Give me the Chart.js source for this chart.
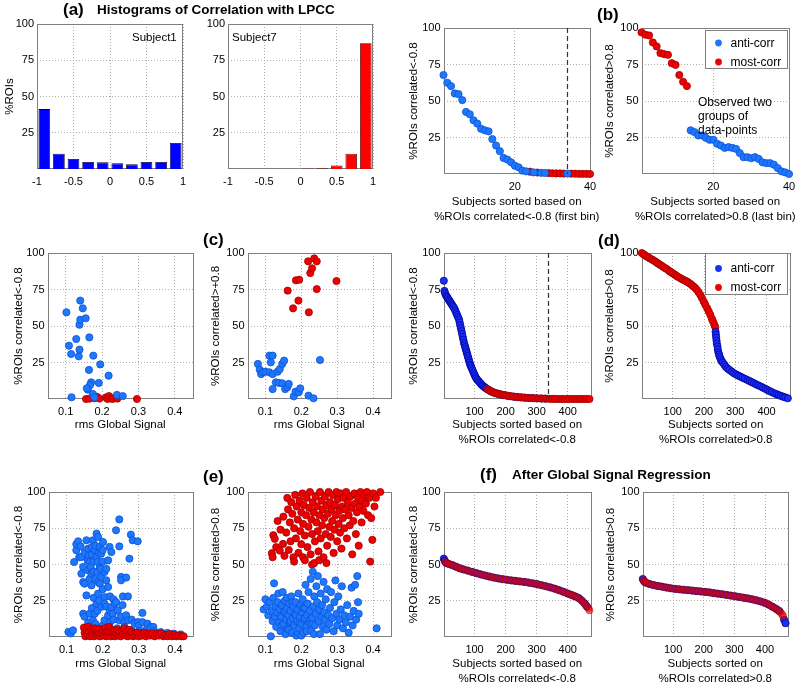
<!DOCTYPE html>
<html>
<head>
<meta charset="utf-8">
<script src="https://cdn.jsdelivr.net/npm/chart.js@4.4.1/dist/chart.umd.min.js"></script>
<style>
  body { margin: 0; background: #fff; }
  #fig { position: relative; width: 800px; height: 688px; overflow: hidden; font-family: "Liberation Sans", Arial, sans-serif; }
  #fig canvas { position: absolute; }
  .lbl { position: absolute; white-space: nowrap; color: #000; }
  .hd { font-weight: bold; }
</style>
</head>
<body>
<div id="fig"></div>
<script>
const FONT = '"Liberation Sans", Arial, sans-serif';

// ---- tick labels ----
const pctTicks = [25, 50, 75, 100];
const corrTicks = [-1, -0.5, 0, 0.5, 1];
const fewSubjTicks = [20, 40];
const rmsTicks = [0.1, 0.2, 0.3, 0.4];
const allSubjTicks = [100, 200, 300, 400];

// ---- (a) histograms ----
const histBins = [-0.9, -0.7, -0.5, -0.3, -0.1, 0.1, 0.3, 0.5, 0.7, 0.9];
const subject1Pct = [41.3, 10.5, 6.9, 4.8, 4.6, 3.9, 3.2, 4.8, 4.8, 17.9];
const subject7Pct = [0, 0, 0, 0, 0, 0.3, 0.5, 2.5, 10.5, 86.7];

// ---- (a) sorted on first bin, 40 subjects ----
const a3Anti = [[1,67.8],[2,62.5],[3,60.2],[4,55.2],[5,54.7],[6,50.6],[7,42.5],[8,40.9],[9,36.8],[10,34.5],
  [11,31.0],[12,29.9],[13,29.2],[14,23.9],[15,19.5],[16,15.6],[17,11.0],[18,9.9],[19,8.0],[20,5.7],
  [21,4.6],[22,2.3],[23,1.8],[25,1.1],[27,0.8],[28,0.7],[34,0.3]];
const a3Most = [[24,1.6],[26,1.0],[29,0.6],[30,0.5],[31,0.4],[32,0.4],[33,0.3],[35,0.2],[36,0.2],[37,0.1],[38,0.1],[39,0.1],[40,0]];
const a3Cut = 34;

// ---- (b) sorted on last bin ----
const bMost = [[1,97],[2,95.4],[3,94.9],[4,90.1],[5,87.4],[6,82.8],[7,82.1],[8,81.6],[9,75.9],[10,74.7],[11,67.8],[12,63.2],[13,60.2]];
const bAnti = [[14,29.9],[15,28.7],[16,26.4],[17,26.4],[18,24.8],[19,23.4],[20,23.4],[21,20.7],[22,19.5],[23,17.9],
  [24,18.4],[25,17.9],[26,17.2],[27,14.3],[28,11.5],[29,11.5],[30,10.8],[31,11.5],[32,10.3],[33,8.0],
  [34,7.4],[35,7.4],[36,6.4],[37,4.1],[38,1.8],[39,1.1],[40,0.0]];

// ---- (c) vs rms global signal, 40 subjects ----
const c1Anti = [[0.102,59.4],[0.109,36.5],[0.115,30.8],[0.129,41.1],[0.136,29.2],[0.138,33.8],[0.140,67.4],[0.138,50.9],
  [0.140,54.3],[0.147,62.1],[0.155,55.3],[0.165,42.2],[0.164,19.9],[0.176,29.7],[0.195,23.7],[0.218,16],[0.170,11.4],
  [0.167,9.6],[0.161,6.4],[0.158,7.3],[0.191,11],[0.116,1.2],[0.175,3.4],[0.179,1.1],[0.241,2.8],[0.257,2]];
const c1Most = [[0.156,0],[0.165,0.2],[0.179,0.5],[0.186,1.5],[0.193,0.3],[0.211,1.1],[0.215,0],[0.219,2],[0.225,0.4],
  [0.229,0],[0.236,1],[0.242,0.3],[0.296,0]];
const c2Anti = [[0.079,24],[0.084,20.1],[0.088,17.1],[0.093,18.3],[0.1,18.7],[0.111,18.3],[0.111,29.7],[0.12,29.7],
  [0.115,25.1],[0.12,17.1],[0.134,18.7],[0.14,20.5],[0.147,24],[0.152,26.3],[0.12,6.8],[0.129,11.4],[0.138,11],
  [0.147,10.7],[0.155,6.8],[0.161,8],[0.165,10.3],[0.179,1.8],[0.184,5],[0.193,4.6],[0.197,7.3],[0.22,2.3],[0.234,0.5],[0.252,26.7]];
const c2Most = [[0.162,74.2],[0.177,62.1],[0.185,81.3],[0.194,81.7],[0.192,67.4],[0.219,94.3],[0.221,59.4],[0.225,86.3],
  [0.230,89.5],[0.236,96.3],[0.243,94.3],[0.243,75.3],[0.298,80.8]];

// ---- (d) all subjects sorted ----
const d1Anti = [[1,81],[3,74],[5,72.5],[8,71],[11,70],[14,69],[17,68],[20,67],[23,66],[26,65],[29,64],[32,63],[35,62],
  [38,60.5],[41,59],[44,57.5],[47,56],[50,54.5],[52,52.5],[54,50.5],[56,48.5],[58,46.5],[60,44.5],[62,42.5],[64,40.5],
  [66,38.5],[68,37],[70,35.5],[72,34],[74,32.5],[76,31],[78,29.5],[80,28],[82,26.5],[84,25],[86,23.5],[88,22.5],[91,21],
  [94,19.5],[97,18],[100,16.5],[103,15.2],[106,14],[110,13],[114,12],[118,11],[122,10],[126,9.2],[130,8.5],[134,7.8],
  [138,7.2],[143,6.5],[150,5.6],[158,4.8],[166,4.1],[175,3.6],[184,3.1],[194,2.7],[204,2.3],[215,1.9],[226,1.6],
  [238,1.3],[250,1.1],[262,0.9],[275,0.7],[288,0.6],[301,0.4],[315,0.3],[328,0.2]];
const d1Most = [[141,6.8],[145,6.3],[147,6],[152,5.4],[154,5.2],[158,4.9],[162,4.4],[166,4.2],[170,3.9],[174,3.7],[179,3.4],
  [184,3.2],[189,2.9],[194,2.8],[199,2.5],[204,2.4],[209,2.1],[214,2],[220,1.8],[226,1.7],[232,1.4],[238,1.4],[244,1.2],
  [250,1.1],[256,1],[262,1],[268,0.8],[275,0.7],[281,0.6],[288,0.6],[294,0.5],[301,0.5],[308,0.4],[315,0.4],[321,0.3],
  [328,0.3],[334,0.2],[342,0.1],[350,0.1],[358,0.1],[366,0],[374,0],[382,0],[390,0],[398,0],[406,0],[414,0],[422,0],
  [430,0],[438,0],[446,0],[454,0],[462,0],[470,0]];
const d1Cut = 335;
const d2Most = [[1,100],[6,99.2],[11,98.5],[16,97.7],[22,97],[27,96.3],[33,95.6],[38,95],[44,94.2],[49,93.4],[54,92.7],
  [59,92],[65,91.2],[70,90.4],[76,89.6],[81,89],[87,88],[92,87.2],[97,86.5],[102,85.8],[108,85],[113,84.2],[118,83.5],
  [124,82.8],[129,82.2],[134,81.6],[140,81],[145,80.5],[150,79.7],[156,78.9],[161,78],[167,77],[172,76],[177,74.8],
  [182,73.3],[188,71.4],[193,69.3],[199,66.8],[204,64.6],[210,62.2],[215,60],[220,57.7],[225,55],[229,53],[233,50.8],[236,49.2]];
const d2Anti = [[237,46],[238,44],[239,42],[240,40],[241,38],[243,36],[244,34],[246,32],[248,30.5],[250,29],[253,27.5],
  [256,26],[260,25],[265,23.5],[270,22],[276,20.8],[282,19.8],[289,18.7],[296,17.6],[303,16.8],[310,16],[317,15.3],
  [324,14.5],[331,13.8],[339,13],[346,12.3],[353,11.5],[360,10.8],[367,10],[374,9.3],[382,8.5],[389,7.7],[396,7],
  [403,6.2],[410,5.4],[417,4.7],[425,3.9],[432,3.3],[439,2.7],[446,2.1],[453,1.6],[460,1.1],[468,0.5]];

// ---- (e) all subjects vs rms global signal ----
const e1Anti = [[0.105,3.5],[0.112,2.5],[0.118,4.6],[0.121,51.7],[0.127,59.8],[0.127,64],[0.132,66],[0.135,55],[0.139,62.5],
  [0.141,55.2],[0.141,43.7],[0.146,48.3],[0.146,37.9],[0.146,16.1],[0.15,36.8],[0.15,58],[0.15,14],[0.155,28.7],[0.155,66.7],
  [0.158,53],[0.16,60.9],[0.16,46],[0.16,10],[0.162,56.3],[0.164,51.7],[0.164,40.2],[0.164,16.1],[0.167,48.3],[0.169,43.7],
  [0.169,35.6],[0.17,57],[0.17,62],[0.17,20],[0.173,66.7],[0.173,11.5],[0.175,52],[0.175,45],[0.175,27],[0.178,59.8],
  [0.178,16.1],[0.18,63],[0.18,40],[0.18,9],[0.183,55.2],[0.183,71.3],[0.183,23],[0.185,45],[0.185,18],[0.187,69],
  [0.187,51.7],[0.187,29.9],[0.188,38],[0.19,58],[0.19,25],[0.192,62.1],[0.192,48.3],[0.192,36.8],[0.195,47],[0.196,57.5],
  [0.196,41.4],[0.196,20.7],[0.2,52],[0.2,60],[0.2,33],[0.2,8],[0.201,65.5],[0.205,44.8],[0.205,27.6],[0.205,23],
  [0.205,11.5],[0.21,39.1],[0.21,47],[0.21,21],[0.21,6],[0.215,34.5],[0.215,52.9],[0.215,14.9],[0.219,62.1],[0.22,18],
  [0.22,10],[0.22,28],[0.224,58.6],[0.224,20.7],[0.228,16.1],[0.23,26],[0.23,12],[0.233,23],[0.237,73.6],[0.237,24.1],
  [0.24,6],[0.242,18.4],[0.246,81.1],[0.246,62.5],[0.246,11.5],[0.25,14],[0.251,41.4],[0.251,39.1],[0.255,22],[0.256,28],
  [0.26,10.3],[0.26,7],[0.265,15],[0.265,41],[0.27,11.5],[0.27,28],[0.274,54],[0.278,70.6],[0.28,12],[0.28,5],[0.283,66.7],
  [0.288,9.7],[0.297,66],[0.297,10.3],[0.3,8],[0.3,4],[0.31,16.6],[0.31,10.3],[0.31,3],[0.32,5],[0.324,9.2],[0.333,6.9],
  [0.34,7],[0.342,4.1],[0.35,3],[0.361,3.4],[0.379,2.8],[0.397,2.3],[0.416,1.8]];
const e1Most = [[0.148,6.5],[0.15,3],[0.152,0.5],[0.155,5],[0.158,1.5],[0.16,7],[0.162,3.5],[0.165,0.5],[0.168,5.5],[0.17,2],
  [0.173,4],[0.176,0.5],[0.178,6],[0.18,2.5],[0.183,4.5],[0.186,1],[0.188,3],[0.19,5.5],[0.193,0.5],[0.196,2.5],[0.2,4.5],
  [0.203,1],[0.206,6],[0.208,3],[0.21,0.5],[0.213,4],[0.216,1.5],[0.218,7],[0.22,3],[0.223,0.5],[0.226,5],[0.228,2],[0.231,4],
  [0.234,0.5],[0.236,2.5],[0.24,5],[0.243,1],[0.246,3.5],[0.25,0.5],[0.253,4.5],[0.256,2],[0.26,6],[0.263,1],[0.266,3.5],
  [0.27,0.5],[0.273,5],[0.276,2],[0.28,3.5],[0.284,0.5],[0.288,2.5],[0.292,1],[0.296,3],[0.3,0.5],[0.305,2],[0.31,1],
  [0.315,3],[0.32,0.5],[0.326,2],[0.332,1],[0.338,2.5],[0.344,0.5],[0.35,2],[0.356,1],[0.362,2.5],[0.368,0.5],[0.374,1.5],
  [0.38,0.5],[0.386,2],[0.392,0.5],[0.398,1.5],[0.404,0.5],[0.41,1],[0.418,0.5],[0.424,0.5]];
const e2Anti = [[0.095,19],[0.1,26],[0.104,21],[0.108,15],[0.112,24],[0.115,0.5],[0.118,18],[0.12,11],[0.122,27],[0.124,37],
  [0.126,14],[0.128,21],[0.13,7],[0.132,17],[0.134,24],[0.136,30],[0.138,10],[0.14,19],[0.142,4],[0.144,14],[0.145,8],
  [0.146,22],[0.148,31],[0.15,9],[0.152,17],[0.154,25],[0.155,18],[0.156,2],[0.158,12],[0.16,20],[0.16,27],[0.162,6],
  [0.164,15],[0.165,5],[0.166,23],[0.168,10],[0.17,18],[0.17,11],[0.172,28],[0.174,3],[0.175,24],[0.176,13],[0.178,21],
  [0.18,8],[0.182,16],[0.184,24],[0.185,15],[0.186,1],[0.188,11],[0.19,19],[0.19,3],[0.192,30],[0.194,6],[0.195,10],
  [0.196,14],[0.198,22],[0.2,9],[0.2,1],[0.202,17],[0.204,26],[0.205,20],[0.206,3],[0.208,12],[0.21,20],[0.21,13],
  [0.212,36],[0.214,7],[0.215,4],[0.216,15],[0.218,23],[0.22,31],[0.222,10],[0.224,18],[0.225,12],[0.226,40],[0.228,4],
  [0.23,13],[0.23,9],[0.232,45],[0.234,21],[0.235,2],[0.236,28],[0.238,8],[0.24,16],[0.242,35],[0.244,24],[0.246,42],
  [0.248,11],[0.25,19],[0.252,2],[0.254,30],[0.256,14],[0.258,22],[0.26,7],[0.262,38],[0.264,17],[0.266,12],[0.268,26],
  [0.27,5],[0.272,33],[0.275,15],[0.278,9],[0.28,20],[0.283,31],[0.286,13],[0.29,4],[0.292,24],[0.295,39],[0.298,16],
  [0.3,8],[0.303,28],[0.306,12],[0.31,19],[0.313,35],[0.316,6],[0.32,15],[0.324,10],[0.328,22],[0.332,3],[0.336,14],
  [0.34,34],[0.343,8],[0.346,18],[0.35,36],[0.353,12],[0.356,42],[0.358,24],[0.36,16],[0.41,6]];
const e2Most = [[0.118,57.8],[0.12,55],[0.122,70.2],[0.126,67.7],[0.13,62],[0.134,80],[0.14,59.6],[0.142,74],[0.149,64.2],
  [0.15,83],[0.153,56],[0.158,72],[0.161,95.9],[0.163,88],[0.165,60],[0.168,79],[0.17,66],[0.172,93],[0.175,85],[0.178,55],
  [0.18,75],[0.18,52],[0.183,98],[0.185,68],[0.187,90],[0.19,81],[0.192,58],[0.195,94],[0.197,73],[0.2,86],[0.2,64],
  [0.203,99],[0.205,78],[0.205,55],[0.207,91],[0.21,53],[0.21,70],[0.213,84],[0.215,96],[0.217,62],[0.22,76],[0.222,89],
  [0.224,100],[0.226,57],[0.228,81],[0.23,71],[0.23,50],[0.232,93],[0.234,86],[0.236,51],[0.238,66],[0.24,97],[0.242,79],
  [0.244,90],[0.246,73],[0.248,59],[0.25,84],[0.25,53],[0.252,100],[0.254,68],[0.256,94],[0.258,77],[0.26,88],[0.262,55],
  [0.264,82],[0.266,97],[0.268,71],[0.27,91],[0.27,51],[0.272,63],[0.274,85],[0.276,100],[0.278,76],[0.28,93],[0.282,69],
  [0.284,88],[0.286,80],[0.288,98],[0.29,58],[0.292,74],[0.294,91],[0.296,84],[0.298,100],[0.3,66],[0.302,95],[0.304,78],
  [0.306,87],[0.308,72],[0.31,99],[0.312,61],[0.314,90],[0.316,82],[0.318,96],[0.32,75],[0.322,88],[0.325,100],[0.327,68],
  [0.33,93],[0.332,84],[0.335,77],[0.337,97],[0.34,89],[0.342,57],[0.345,80],[0.348,99],[0.35,92],[0.352,71],[0.355,86],
  [0.358,96],[0.36,63],[0.362,90],[0.365,100],[0.368,79],[0.37,94],[0.373,87],[0.376,98],[0.38,92],[0.383,100],[0.386,84],
  [0.39,96],[0.392,52],[0.395,82],[0.398,67],[0.4,99],[0.404,90],[0.408,96],[0.42,100]];

// ---- (f) after global signal regression ----
const f1Anti = [[1,54],[4,52.5],[8,51.2],[16,50.5],[28,49.6],[40,48.5],[52,47.4],[64,46.6],[78,45.8],[92,44.9],[106,44],
  [120,43.2],[134,42.4],[148,41.7],[162,41],[176,40.4],[190,39.9],[204,39.5],[218,39],[232,38.7],[246,38.3],[260,38],
  [274,37.5],[288,37],[302,36.4],[316,35.7],[330,35],[344,34.2],[358,33.3],[372,32.3],[386,31.2],[400,30],[412,29],
  [424,28],[436,26.8],[446,25],[455,23],[462,21]];
const f1Most = [[6,51.8],[12,50.8],[22,50],[34,49],[46,48],[58,47],[71,46.2],[85,45.3],[99,44.5],[113,43.6],[127,42.8],
  [141,42],[155,41.3],[169,40.7],[183,40.1],[197,39.7],[211,39.3],[225,38.9],[239,38.5],[253,38.2],[267,37.8],[281,37.2],
  [295,36.7],[309,36],[323,35.3],[337,34.6],[351,33.8],[365,32.8],[379,31.8],[393,30.6],[406,29.5],[418,28.5],[430,27.5],
  [441,26],[450,24],[458,22],[466,20],[470,18.5]];
const f2Anti = [[1,40],[5,38.5],[10,37.5],[22,36.6],[36,35.8],[50,35.2],[64,34.7],[78,34.1],[92,33.6],[106,33.2],[120,32.9],
  [134,32.6],[148,32.3],[162,32],[176,31.7],[190,31.4],[204,31.1],[218,30.8],[232,30.3],[246,29.9],[260,29.5],[274,29],
  [288,28.6],[302,28.1],[316,27.6],[330,27.1],[344,26.6],[358,26],[372,25.3],[386,24.5],[400,23.5],[412,22.3],[424,20.9],
  [436,19.4],[446,18],[462,12],[467,9.5]];
const f2Most = [[3,39.2],[8,38],[15,37.2],[29,36.2],[43,35.5],[57,35],[71,34.4],[85,33.9],[99,33.4],[113,33],[127,32.7],
  [141,32.4],[155,32.2],[169,31.9],[183,31.6],[197,31.2],[211,31],[225,30.5],[239,30.1],[253,29.7],[267,29.3],[281,28.8],
  [295,28.3],[309,27.9],[323,27.4],[337,26.8],[351,26.3],[365,25.6],[379,24.9],[393,24.1],[406,23],[418,21.6],[430,20.2],
  [441,18.7],[450,17.2],[455,15.8],[459,14.5]];

// ---- colours ----
const LIGHT_BLUE = '#1e78ff', LIGHT_BLUE_EDGE = '#0c50d2';
const DEEP_BLUE = '#1c30f0', DEEP_BLUE_EDGE = '#0000a0';
const RED = '#f00000', RED_EDGE = '#a00000';
// red painted over a dense blue run, so both show through like in the figure
const MIX_RED = 'rgba(235,0,0,0.55)', MIX_RED_EDGE = 'rgba(150,0,0,0.55)';

const fig = document.getElementById('fig');

// box around the plot area, drawn under the data like matlab
const frame = {
  id: 'frame',
  beforeDatasetsDraw(chart) {
    const { ctx, chartArea: a } = chart;
    ctx.save();
    ctx.strokeStyle = '#808080';
    ctx.lineWidth = 1;
    ctx.strokeRect(Math.round(a.left) + 0.5, Math.round(a.top) + 0.5, Math.round(a.right - a.left) - 1, Math.round(a.bottom - a.top) - 1);
    ctx.restore();
  }
};

// vertical dashed cut-off line
const cutLine = {
  id: 'cutLine',
  afterDatasetsDraw(chart, args, o) {
    if (o.value == null) return;
    const { ctx, chartArea: a } = chart;
    const x = Math.round(chart.scales.x.getPixelForValue(o.value)) + 0.5;
    ctx.save();
    ctx.strokeStyle = '#333';
    ctx.lineWidth = 1.2;
    ctx.setLineDash([5, 3]);
    ctx.beginPath();
    ctx.moveTo(x, a.top);
    ctx.lineTo(x, a.bottom);
    ctx.stroke();
    ctx.restore();
  }
};

// legend box inside the axes (top right)
const boxLegend = {
  id: 'boxLegend',
  afterDatasetsDraw(chart, args, o) {
    if (o.w == null) return;
    const { ctx, chartArea: a } = chart;
    const x = Math.round(a.right - o.right - o.w) + 0.5, y = Math.round(a.top + o.top) + 0.5;
    ctx.save();
    ctx.fillStyle = '#fff';
    ctx.fillRect(x, y, o.w, o.h);
    ctx.strokeStyle = '#808080';
    ctx.lineWidth = 1;
    ctx.strokeRect(x, y, o.w, o.h);
    ctx.font = '12px ' + FONT;
    ctx.textBaseline = 'middle';
    chart.data.datasets.forEach((ds, i) => {
      const cy = y + o.row0 + i * o.gap;
      ctx.beginPath();
      ctx.arc(x + 13, cy, 3.4, 0, Math.PI * 2);
      ctx.fillStyle = ds.backgroundColor;
      ctx.fill();
      ctx.fillStyle = '#000';
      ctx.fillText(ds.label, x + 25, cy + 0.5);
    });
    ctx.restore();
  }
};

// x axis caption, one or two lines, not squeezed to the axis width
const xCaption = {
  id: 'xCaption',
  afterDraw(chart, args, o) {
    if (!o.lines) return;
    const { ctx, chartArea: a } = chart;
    ctx.save();
    ctx.font = '11.5px ' + FONT;
    ctx.fillStyle = '#000';
    ctx.textAlign = 'center';
    ctx.textBaseline = 'middle';
    o.lines.forEach((t, i) => ctx.fillText(t, (a.left + a.right) / 2, a.bottom + o.at[i]));
    ctx.restore();
  }
};

function axis(dir, range, ticks, title, size) {
  return {
    type: 'linear',
    position: dir === 'x' ? 'bottom' : 'left',
    min: range[0],
    max: range[1],
    offset: false,
    afterBuildTicks: s => { s.ticks = ticks.map(v => ({ value: v })); },
    afterFit: s => { if (dir === 'x') s.height = size; else s.width = size; },
    grid: { color: '#b0b0b0', lineWidth: 1, drawTicks: false, offset: false },
    border: { display: false, dash: [1, 2] },
    ticks: {
      color: '#000',
      font: { size: 11, family: FONT },
      padding: dir === 'x' ? 6 : 3,
      maxRotation: 0,
      autoSkip: false,
      callback: v => String(v)
    },
    title: {
      display: !!title,
      text: title || '',
      color: '#000',
      font: { size: 11.5, family: FONT, lineHeight: 1.3 },
      padding: 0
    }
  };
}

// order: lower value is painted later (on top)
function dots(pts, fill, edge, label, order) {
  return {
    label: label,
    data: pts.map(p => ({ x: p[0], y: p[1] })),
    backgroundColor: fill,
    borderColor: edge,
    borderWidth: 0.8,
    pointRadius: 3.6,
    pointHoverRadius: 3.6,
    order: order || 0,
    clip: false
  };
}

function bars(values, fill, edge) {
  return {
    data: histBins.map((b, i) => ({ x: b, y: values[i] })),
    backgroundColor: fill,
    borderColor: edge,
    borderWidth: 0.8,
    barPercentage: 0.8,
    categoryPercentage: 1.0
  };
}

// box = [plotLeft, plotTop, plotRight, plotBottom, yAxisWidth, xAxisHeight]
function panel(box, o) {
  const [L, T, R, B, yBox, xBox] = box;
  const padTop = 10, padRight = 22;
  const cv = document.createElement('canvas');
  cv.width = R - L + yBox + padRight;
  cv.height = B - T + padTop + xBox;
  cv.style.left = (L - yBox) + 'px';
  cv.style.top = (T - padTop) + 'px';
  fig.appendChild(cv);
  return new Chart(cv, {
    type: o.type || 'scatter',
    data: { datasets: o.datasets },
    options: {
      responsive: false,
      animation: false,
      events: [],
      layout: { padding: { top: padTop, right: padRight, left: 0, bottom: 0 } },
      plugins: {
        legend: { display: false },
        tooltip: { enabled: false },
        cutLine: o.cut != null ? { value: o.cut } : {},
        boxLegend: o.legend || {},
        xCaption: o.xTitle ? { lines: o.xTitle, at: o.xAt } : {}
      },
      scales: {
        x: axis('x', o.xRange, o.xTicks, null, xBox),
        y: axis('y', [0, 100], pctTicks, o.yTitle, yBox)
      }
    },
    plugins: [frame, cutLine, boxLegend, xCaption]
  });
}

const lessTitle = '%ROIs correlated<-0.8';
const moreTitle = '%ROIs correlated>0.8';

// row 1
panel([37, 24, 183, 169, 35, 20], {
  type: 'bar', datasets: [bars(subject1Pct, '#0000ff', '#000028')],
  xRange: [-1, 1], xTicks: corrTicks, yTitle: '%ROIs'
});
panel([228, 24, 373, 169, 26, 20], {
  type: 'bar', datasets: [bars(subject7Pct, '#ff0000', '#280000')],
  xRange: [-1, 1], xTicks: corrTicks
});
panel([443, 28, 590, 174, 37.5, 50], {
  datasets: [dots(a3Anti, LIGHT_BLUE, LIGHT_BLUE_EDGE, 'anti-corr'), dots(a3Most, RED, RED_EDGE, 'most-corr')],
  xRange: [1, 40], xTicks: fewSubjTicks, cut: a3Cut,
  yTitle: lessTitle, xTitle: ['Subjects sorted based on', '%ROIs correlated<-0.8 (first bin)'], xAt: [27.7, 42.7]
});
panel([641, 28, 789, 174, 39.5, 50], {
  datasets: [dots(bAnti, LIGHT_BLUE, LIGHT_BLUE_EDGE, 'anti-corr'), dots(bMost, RED, RED_EDGE, 'most-corr')],
  xRange: [1, 40], xTicks: fewSubjTicks,
  legend: { w: 82, h: 38, right: 2, top: 2, row0: 12.5, gap: 19 },
  yTitle: moreTitle, xTitle: ['Subjects sorted based on', '%ROIs correlated>0.8 (last bin)'], xAt: [27.7, 42.7]
});

// row 2
panel([47, 253, 193, 399, 36.5, 34], {
  datasets: [dots(c1Anti, LIGHT_BLUE, LIGHT_BLUE_EDGE, 'anti-corr'), dots(c1Most, RED, RED_EDGE, 'most-corr')],
  xRange: [0.05, 0.45], xTicks: rmsTicks, yTitle: lessTitle, xTitle: ['rms Global Signal'], xAt: [26]
});
panel([247, 253, 391, 399, 39.5, 34], {
  datasets: [dots(c2Anti, LIGHT_BLUE, LIGHT_BLUE_EDGE, 'anti-corr'), dots(c2Most, RED, RED_EDGE, 'most-corr')],
  xRange: [0.05, 0.45], xTicks: rmsTicks, yTitle: '%ROIs correlated>+0.8', xTitle: ['rms Global Signal'], xAt: [26]
});
// past the cut-off only most-corr subjects remain, so those are solid red
const d1MostSet = dots(d1Most, MIX_RED, MIX_RED_EDGE, 'most-corr', 0);
d1MostSet.backgroundColor = c => (c.raw && c.raw.x > d1Cut ? RED : MIX_RED);
d1MostSet.borderColor = c => (c.raw && c.raw.x > d1Cut ? RED_EDGE : MIX_RED_EDGE);
panel([443, 253, 591, 399, 37.5, 49], {
  datasets: [dots(d1Anti, DEEP_BLUE, DEEP_BLUE_EDGE, 'anti-corr', 1), d1MostSet],
  xRange: [0, 475], xTicks: allSubjTicks, cut: d1Cut,
  yTitle: lessTitle, xTitle: ['Subjects sorted based on', '%ROIs correlated<-0.8'], xAt: [26, 41]
});
panel([641, 253, 790, 399, 39.5, 49], {
  datasets: [dots(d2Anti, DEEP_BLUE, DEEP_BLUE_EDGE, 'anti-corr'), dots(d2Most, RED, RED_EDGE, 'most-corr')],
  xRange: [0, 475], xTicks: allSubjTicks,
  legend: { w: 82, h: 41, right: 3, top: 0, row0: 15, gap: 19 },
  yTitle: moreTitle, xTitle: ['Subjects sorted on', '%ROIs correlated>0.8'], xAt: [26, 41]
});

// row 3
panel([48, 492, 193, 637, 37.5, 35], {
  datasets: [dots(e1Anti, LIGHT_BLUE, LIGHT_BLUE_EDGE, 'anti-corr', 1), dots(e1Most, RED, RED_EDGE, 'most-corr', 0)],
  xRange: [0.05, 0.45], xTicks: rmsTicks, yTitle: lessTitle, xTitle: ['rms Global Signal'], xAt: [27]
});
panel([247, 492, 391, 637, 39.5, 35], {
  datasets: [dots(e2Anti, LIGHT_BLUE, LIGHT_BLUE_EDGE, 'anti-corr'), dots(e2Most, RED, RED_EDGE, 'most-corr')],
  xRange: [0.05, 0.45], xTicks: rmsTicks, yTitle: moreTitle, xTitle: ['rms Global Signal'], xAt: [27]
});
panel([443, 492, 591, 637, 37.5, 50], {
  datasets: [dots(f1Anti, DEEP_BLUE, DEEP_BLUE_EDGE, 'anti-corr', 1), dots(f1Most, MIX_RED, MIX_RED_EDGE, 'most-corr', 0)],
  xRange: [0, 475], xTicks: allSubjTicks,
  yTitle: lessTitle, xTitle: ['Subjects sorted based on', '%ROIs correlated<-0.8'], xAt: [27, 42]
});
panel([642, 492, 788, 637, 39.5, 50], {
  datasets: [dots(f2Anti, DEEP_BLUE, DEEP_BLUE_EDGE, 'anti-corr', 1), dots(f2Most, MIX_RED, MIX_RED_EDGE, 'most-corr', 0)],
  xRange: [0, 475], xTicks: allSubjTicks,
  yTitle: moreTitle, xTitle: ['Subjects sorted on', '%ROIs correlated>0.8'], xAt: [27, 42]
});

// headings and notes
function label(text, left, cy, size, bold, lh) {
  const d = document.createElement('div');
  d.className = 'lbl' + (bold ? ' hd' : '');
  const h = lh || Math.round(size * 1.2);
  d.style.left = left + 'px';
  d.style.top = (cy - h / 2) + 'px';
  d.style.fontSize = size + 'px';
  d.style.lineHeight = h + 'px';
  d.innerHTML = text;
  fig.appendChild(d);
}
label('(a)', 63, 10, 17, true);
label('Histograms of Correlation with LPCC', 97, 10, 13.5, true);
label('(b)', 597, 15, 17, true);
label('(c)', 203, 240, 17, true);
label('(d)', 598, 241, 17, true);
label('(e)', 203, 477, 17, true);
label('(f)', 480, 475, 17, true);
label('After Global Signal Regression', 512, 475, 13.5, true);
label('Subject1', 132, 37, 11.5, false);
label('Subject7', 232, 37, 11.5, false);
label('Observed two<br>groups of<br>data-points', 698, 103, 12, false, 13.7);
</script>
</body>
</html>
